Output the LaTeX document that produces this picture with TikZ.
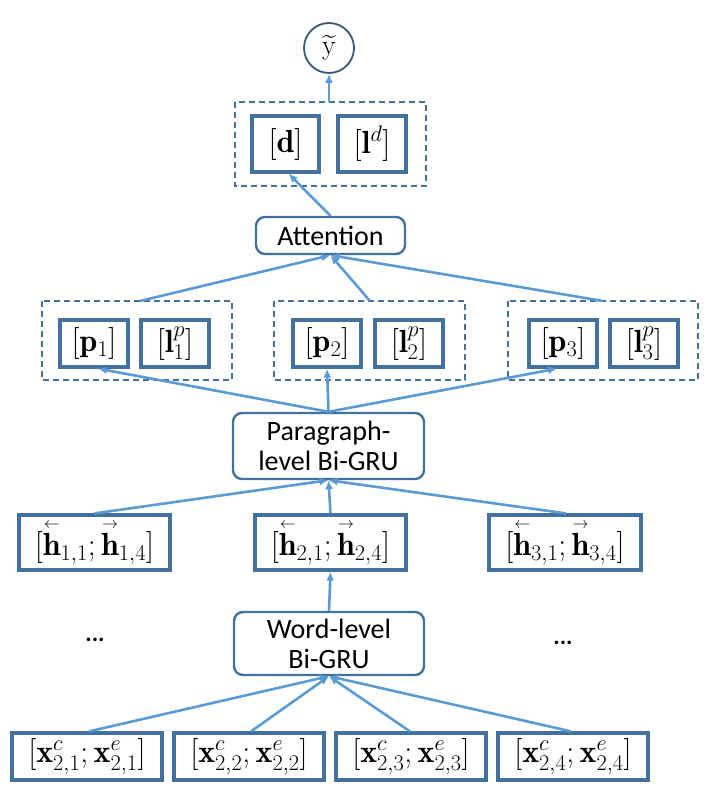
\RequirePackage{fix-cm}
\documentclass[tikz,border=0pt]{standalone}
\usepackage{amsmath}
\usepackage{fontspec}
\newfontfamily\carlito{Carlito}
\usetikzlibrary{arrows.meta}
\definecolor{bord}{HTML}{41719C}
\definecolor{conn}{HTML}{5B9BD5}
\newcommand{\lh}{\overset{\scriptscriptstyle\leftarrow}{\mathbf{h}}}
\newcommand{\rh}{\overset{\scriptscriptstyle\rightarrow}{\mathbf{h}}}
\begin{document}
\begin{tikzpicture}[x=1pt,y=-1pt,
  vbox/.style={draw=bord,line width=3.2pt,inner sep=0pt,fill=white},
  dbox/.style={draw=bord,line width=1.6pt,dash pattern=on 6pt off 4pt},
  rbox/.style={draw=bord,line width=2.4pt,rounded corners=9pt,inner sep=0pt,font=\carlito\fontsize{28}{30}\selectfont,align=center},
  mtext/.style={font=\fontsize{32}{36}\selectfont},
  conn/.style={draw=conn,line width=2.6pt,-{Latex[length=9pt,width=8pt]}}]
\useasboundingbox (0,0) rectangle (715,800);
% output
\node[circle,draw=bord!80!black,line width=1.8pt,minimum size=50pt,inner sep=0pt,font=\fontsize{28}{30}\selectfont] (y) at (329,48) {$\widetilde{\mathrm{y}}$};
% top dashed
\draw[dbox] (235,102) rectangle (426,186);
\coordinate (dtop) at (329,102);
\node[vbox,minimum width=67pt,minimum height=56pt,mtext] (d) at (285.5,144) {$[\mathbf{d}]$};
\node[vbox,minimum width=68pt,minimum height=56pt,mtext] (ld) at (372,144) {$[\mathbf{l}^{d}]$};
% attention
\node[rbox,minimum width=149pt,minimum height=37pt] (att) at (330.5,235.5) {Attention};
% paragraph groups
\draw[dbox] (42,301) rectangle (232,380);
\draw[dbox] (274,301) rectangle (465,380);
\draw[dbox] (508,301) rectangle (698,380);
\coordinate (g1) at (140,301);
\coordinate (g2) at (370,301);
\coordinate (g3) at (603,301);
\node[vbox,minimum width=68pt,minimum height=47pt,mtext] (p1) at (94,343.5) {$[\mathbf{p}_1]$};
\node[vbox,minimum width=68pt,minimum height=47pt,mtext] (lp1) at (175,343.5) {$[\mathbf{l}^{p}_1]$};
\node[vbox,minimum width=68pt,minimum height=47pt,mtext] (p2) at (327,343.5) {$[\mathbf{p}_2]$};
\node[vbox,minimum width=68pt,minimum height=47pt,mtext] (lp2) at (409,343.5) {$[\mathbf{l}^{p}_2]$};
\node[vbox,minimum width=68pt,minimum height=47pt,mtext] (p3) at (563,343.5) {$[\mathbf{p}_3]$};
\node[vbox,minimum width=68pt,minimum height=47pt,mtext] (lp3) at (644,343.5) {$[\mathbf{l}^{p}_3]$};
% paragraph GRU
\node[rbox,minimum width=191pt,minimum height=66pt] (pgru) at (328.5,446) {Paragraph-\\level Bi-GRU};
% h boxes
\node[vbox,minimum width=151pt,minimum height=55pt,mtext] (h1) at (94.5,542.5) {$[\lh_{1,1};\rh_{1,4}]$};
\node[vbox,minimum width=151pt,minimum height=55pt,mtext] (h2) at (330.5,542.5) {$[\lh_{2,1};\rh_{2,4}]$};
\node[vbox,minimum width=152pt,minimum height=55pt,mtext] (h3) at (565,542.5) {$[\lh_{3,1};\rh_{3,4}]$};
% word GRU
\node[rbox,minimum width=190pt,minimum height=63pt] (wgru) at (329,643.5) {Word-level\\Bi-GRU};
\node[font=\carlito\bfseries\fontsize{24}{26}\selectfont] (dots1) at (95,640) {...};
\node[font=\carlito\bfseries\fontsize{24}{26}\selectfont] (dots2) at (563,643) {...};
% x boxes
\node[vbox,minimum width=150pt,minimum height=47pt,mtext] (x1) at (87,756.5) {$[\mathbf{x}^{c}_{2,1};\mathbf{x}^{e}_{2,1}]$};
\node[vbox,minimum width=150pt,minimum height=47pt,mtext] (x2) at (249,756.5) {$[\mathbf{x}^{c}_{2,2};\mathbf{x}^{e}_{2,2}]$};
\node[vbox,minimum width=150pt,minimum height=47pt,mtext] (x3) at (411,756.5) {$[\mathbf{x}^{c}_{2,3};\mathbf{x}^{e}_{2,3}]$};
\node[vbox,minimum width=150pt,minimum height=47pt,mtext] (x4) at (573,756.5) {$[\mathbf{x}^{c}_{2,4};\mathbf{x}^{e}_{2,4}]$};
% connectors
\draw[conn] (dtop) -- (y.south);
\draw[conn] (att.north) -- ([xshift=3pt]d.south);
\draw[conn] (g1) -- (att.south);
\draw[conn] (g2) -- (att.south);
\draw[conn] (g3) -- (att.south);
\draw[conn] (pgru.north) -- ([xshift=4pt]p1.south);
\draw[conn] (pgru.north) -- (p2.south);
\draw[conn] (pgru.north) -- ([xshift=-6pt]p3.south);
\draw[conn] (h1.north) -- (pgru.south);
\draw[conn] (h2.north) -- (pgru.south);
\draw[conn] ([xshift=1pt]h3.north) -- (pgru.south);
\draw[conn] (wgru.north) -- (h2.south);
\draw[conn] ([xshift=2pt]x1.north) -- (wgru.south);
\draw[conn] ([xshift=2pt]x2.north) -- (wgru.south);
\draw[conn] ([xshift=-1pt]x3.north) -- (wgru.south);
\draw[conn] ([xshift=-2pt]x4.north) -- (wgru.south);
\end{tikzpicture}
\end{document}
